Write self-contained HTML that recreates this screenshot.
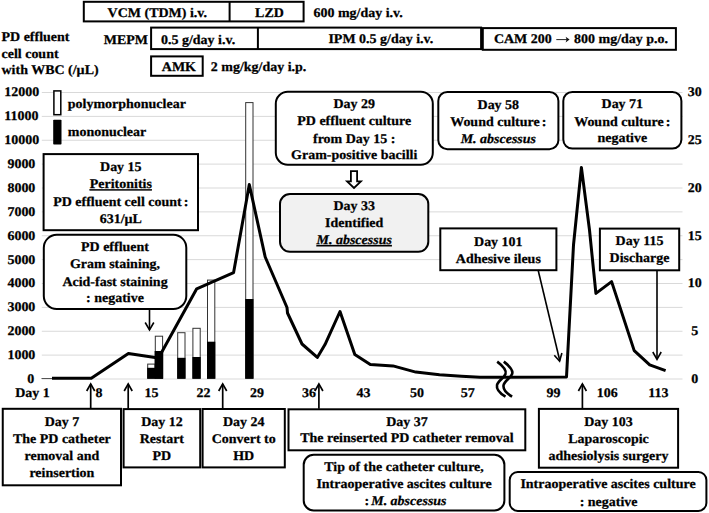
<!DOCTYPE html>
<html><head><meta charset="utf-8"><style>
html,body{margin:0;padding:0;background:#fff;width:709px;height:513px;overflow:hidden}
svg{display:block}
text{font-family:"Liberation Serif",serif;font-weight:bold;font-size:13.2px;text-rendering:geometricPrecision;fill:#000;stroke:#000;stroke-width:0.25px}
.c{text-anchor:middle}
.i{font-style:italic}
</style></head><body>
<svg width="709" height="513" viewBox="0 0 709 513">
<!-- gridlines -->
<g stroke="#d9d9d9" stroke-width="1">
<line x1="41.8" x2="682.5" y1="92.50" y2="92.50"/>
<line x1="41.8" x2="682.5" y1="116.38" y2="116.38"/>
<line x1="41.8" x2="682.5" y1="140.25" y2="140.25"/>
<line x1="41.8" x2="682.5" y1="164.12" y2="164.12"/>
<line x1="41.8" x2="682.5" y1="188.00" y2="188.00"/>
<line x1="41.8" x2="682.5" y1="211.88" y2="211.88"/>
<line x1="41.8" x2="682.5" y1="235.75" y2="235.75"/>
<line x1="41.8" x2="682.5" y1="259.62" y2="259.62"/>
<line x1="41.8" x2="682.5" y1="283.50" y2="283.50"/>
<line x1="41.8" x2="682.5" y1="307.38" y2="307.38"/>
<line x1="41.8" x2="682.5" y1="331.25" y2="331.25"/>
<line x1="41.8" x2="682.5" y1="355.12" y2="355.12"/>
<line x1="41.8" x2="682.5" y1="379.00" y2="379.00"/>
</g>
<line x1="41.5" x2="53" y1="378.5" y2="378.5" stroke="#555" stroke-width="1"/>

<!-- left axis labels -->
<text transform="translate(4.2,96.4) scale(1.06,1)">12000</text>
<text transform="translate(4.2,120.3) scale(1.06,1)">11000</text>
<text transform="translate(4.2,144.2) scale(1.06,1)">10000</text>
<text transform="translate(7.4,168) scale(1.06,1)">9000</text>
<text transform="translate(7.4,191.9) scale(1.06,1)">8000</text>
<text transform="translate(7.4,215.8) scale(1.06,1)">7000</text>
<text transform="translate(7.4,239.7) scale(1.06,1)">6000</text>
<text transform="translate(7.4,263.5) scale(1.06,1)">5000</text>
<text transform="translate(7.4,287.4) scale(1.06,1)">4000</text>
<text transform="translate(7.4,311.3) scale(1.06,1)">3000</text>
<text transform="translate(7.4,335.2) scale(1.06,1)">2000</text>
<text transform="translate(7.4,359) scale(1.06,1)">1000</text>
<text transform="translate(27.3,382.9) scale(1.06,1)">0</text>

<!-- right axis labels -->
<g class="c">
<text class="c" transform="translate(694.8,96.4) scale(1.06,1)">30</text>
<text class="c" transform="translate(694.8,144.2) scale(1.06,1)">25</text>
<text class="c" transform="translate(694.8,191.9) scale(1.06,1)">20</text>
<text class="c" transform="translate(694.8,239.7) scale(1.06,1)">15</text>
<text class="c" transform="translate(694.8,287.4) scale(1.06,1)">10</text>
<text class="c" transform="translate(694.8,335.2) scale(1.06,1)">5</text>
<text class="c" transform="translate(694.8,382.9) scale(1.06,1)">0</text>
</g>

<!-- x labels -->
<text transform="translate(15.2,396.8) scale(1.06,1)">Day 1</text>
<text class="c" transform="translate(98.9,396.8) scale(1.06,1)">8</text>
<text class="c" transform="translate(151.5,396.8) scale(1.06,1)">15</text>
<text class="c" transform="translate(203.5,396.8) scale(1.06,1)">22</text>
<text class="c" transform="translate(256.9,396.8) scale(1.06,1)">29</text>
<text class="c" transform="translate(309,396.8) scale(1.06,1)">36</text>
<text class="c" transform="translate(363.4,396.8) scale(1.06,1)">43</text>
<text class="c" transform="translate(417,396.8) scale(1.06,1)">50</text>
<text class="c" transform="translate(467.7,396.8) scale(1.06,1)">57</text>
<text class="c" transform="translate(553.6,396.8) scale(1.06,1)">99</text>
<text class="c" transform="translate(607.2,396.8) scale(1.06,1)">106</text>
<text class="c" transform="translate(658.3,396.8) scale(1.06,1)">113</text>

<!-- bars -->
<g stroke="#333" stroke-width="1">
<rect x="147.7" y="364.1" width="7.3" height="14.4" fill="#fff"/>
<rect x="155.3" y="336.2" width="7.3" height="42.3" fill="#fff"/>
<rect x="177.7" y="332.7" width="7.3" height="45.8" fill="#fff"/>
<rect x="192.9" y="328.3" width="7.3" height="50.2" fill="#fff"/>
<rect x="207.5" y="280.1" width="7.3" height="98.4" fill="#fff"/>
<rect x="245.7" y="102.6" width="7.3" height="275.9" fill="#fff"/>
</g>
<g fill="#000">
<rect x="147.2" y="367.8" width="8.3" height="10.7"/>
<rect x="154.8" y="351" width="8.3" height="27.5"/>
<rect x="177.2" y="357.8" width="8.3" height="20.7"/>
<rect x="192.4" y="357" width="8.3" height="21.5"/>
<rect x="207" y="341.7" width="8.3" height="36.8"/>
<rect x="245.2" y="299" width="8.3" height="79.5"/>
</g>

<!-- main line -->
<polyline fill="none" stroke="#000" stroke-width="3" stroke-linejoin="round" stroke-linecap="butt"
 points="52,378.3 91.3,378.3 128.4,353.6 155,357.4 158.5,358 196.7,288.8 233.6,272.6 249.3,184.6 265.2,257 287,307.5 287.5,313 302,344 317.3,357.4 325,344.6 340,311.5 354.8,354.6 370.3,364.6 393,365.9 415.8,372.1 439.5,374.7 461.5,376.2 480,377.2 566.5,377 573.5,245 581.4,167.4 589.5,230 595.9,293.4 611.6,281.6 634.2,350.6 649.7,364.8 665.6,370.6"/>
<!-- black bar B overlays line -->
<rect x="154.8" y="351" width="8.3" height="27.5" fill="#000"/>

<!-- break symbol -->
<g fill="none" stroke="#000" stroke-width="2.6">
<path d="M497.2,361.6 C503,366 507,370 505.5,374 C504,378 498,381 497,385 C496,390 501,394 505.5,396.7"/>
<path d="M503.8,361.6 C509.6,366 513.6,370 512.1,374 C510.6,378 504.6,381 503.6,385 C502.6,390 507.6,394 512.1,396.7"/>
</g>

<!-- legend -->
<rect x="53.9" y="90.9" width="6.9" height="23.8" fill="#fff" stroke="#000" stroke-width="1.5"/>
<rect x="53.2" y="119.8" width="8.3" height="24.7" fill="#000" rx="0.8"/>
<text transform="translate(67.8,108.3) scale(1.06,1)">polymorphonuclear</text>
<text transform="translate(67.8,135.8) scale(1.06,1)">mononuclear</text>

<!-- top medication rows -->
<g fill="#fff" stroke="#000" stroke-width="2">
<rect x="83.8" y="1.8" width="219.8" height="19.6"/>
<line x1="229.6" x2="229.6" y1="1.8" y2="21.4"/>
<rect x="151.1" y="27.6" width="330" height="21.5"/>
<line x1="257.9" x2="257.9" y1="27.6" y2="49.1"/>
<rect x="482.8" y="28.1" width="193.1" height="21.7"/>
<rect x="151.1" y="56.4" width="51.6" height="19.4"/>
</g>
<text class="c" transform="translate(157.3,17.2) scale(1.06,1)">VCM (TDM) i.v.</text>
<text class="c" transform="translate(269.5,17.2) scale(1.06,1)">LZD</text>
<text transform="translate(313.5,16.9) scale(1.06,1)">600 mg/day i.v.</text>
<text transform="translate(103.7,43.7) scale(1.06,1)">MEPM</text>
<text transform="translate(161,43.5) scale(1.06,1)">0.5 g/day i.v.</text>
<text transform="translate(328.4,43.3) scale(1.06,1)">IPM 0.5 g/day i.v.</text>
<text transform="translate(493.9,43.3) scale(1.06,1)">CAM 200</text>
<text transform="translate(574.1,43.3) scale(1.06,1)">800 mg/day p.o.</text>
<path d="M556.3,39.6 H567" stroke="#222" stroke-width="1"/>
<path d="M565.6,36.8 L569.6,39.6 L565.6,42.4 L566.6,39.6 Z" fill="#111"/>
<text transform="translate(161.8,71.1) scale(1.06,1)">AMK</text>
<text transform="translate(210.8,71.1) scale(1.06,1)">2 mg/kg/day i.p.</text>
<text transform="translate(1.5,40.5) scale(1.06,1)">PD effluent</text>
<text transform="translate(1.5,57.5) scale(1.06,1)">cell count</text>
<text transform="translate(1.5,74.3) scale(1.06,1)">with WBC (/µL)</text>

<!-- upper boxes -->
<g fill="#fff" stroke="#000" stroke-width="2">
<rect x="43.6" y="154.1" width="154.4" height="76.1"/>
<rect x="43.8" y="234.8" width="142.5" height="74.3" rx="13" ry="13"/>
<rect x="275.8" y="91.7" width="157" height="73" rx="12" ry="12"/>
<rect x="280" y="194" width="148.3" height="57.8" rx="10" ry="10" fill="#f1f1f1"/>
<rect x="438.3" y="91.9" width="120.1" height="57.3" rx="9" ry="9"/>
<rect x="563.3" y="91.9" width="118.1" height="56.7" rx="9" ry="9"/>
<rect x="440.3" y="228.4" width="116.1" height="41.8"/>
<rect x="599.9" y="228.6" width="79.3" height="41.7"/>
</g>
<text class="c" transform="translate(120.8,171.4) scale(1.06,1)">Day 15</text>
<text class="c" text-decoration="underline" transform="translate(120.8,188.2) scale(1.06,1)">Peritonitis</text>
<text class="c" transform="translate(120.8,206) scale(1.06,1)">PD effluent cell count<tspan dx="2">:</tspan></text>
<text class="c" transform="translate(120.8,222.8) scale(1.06,1)">631/µL</text>

<text class="c" transform="translate(115,251.1) scale(1.06,1)">PD effluent</text>
<text class="c" transform="translate(115,268) scale(1.06,1)">Gram staining,</text>
<text class="c" transform="translate(115,286) scale(1.06,1)">Acid-fast staining</text>
<text class="c" transform="translate(115,301.8) scale(1.06,1)">: negative</text>

<text class="c" transform="translate(354.2,108.3) scale(1.06,1)">Day 29</text>
<text class="c" transform="translate(354.2,125) scale(1.06,1)">PD effluent culture</text>
<text class="c" transform="translate(354.2,142.6) scale(1.06,1)">from Day 15 :</text>
<text class="c" transform="translate(354.2,158.6) scale(1.06,1)">Gram-positive bacilli</text>

<text class="c" transform="translate(354.2,210.4) scale(1.06,1)">Day 33</text>
<text class="c" transform="translate(354.2,227.1) scale(1.06,1)">Identified</text>
<text class="c i" text-decoration="underline" transform="translate(354.2,244) scale(1.06,1)">M. abscessus</text>

<text class="c" transform="translate(498.3,108.7) scale(1.06,1)">Day 58</text>
<text class="c" transform="translate(498.3,126.1) scale(1.06,1)">Wound culture<tspan dx="2">:</tspan></text>
<text class="c i" transform="translate(498.3,142.9) scale(1.06,1)">M. abscessus</text>

<text class="c" transform="translate(622.3,108.3) scale(1.06,1)">Day 71</text>
<text class="c" transform="translate(622.3,125.5) scale(1.06,1)">Wound culture<tspan dx="2">:</tspan></text>
<text class="c" transform="translate(622.3,142.3) scale(1.06,1)">negative</text>

<text class="c" transform="translate(498.3,245.7) scale(1.06,1)">Day 101</text>
<text class="c" transform="translate(498.3,262.5) scale(1.06,1)">Adhesive ileus</text>

<text class="c" transform="translate(639.5,245.4) scale(1.06,1)">Day 115</text>
<text class="c" transform="translate(639.5,262.1) scale(1.06,1)">Discharge</text>

<!-- hollow arrow -->
<path d="M350.9,171.2 H357.1 V181.4 H360.9 L354,188 L347.1,181.4 H350.9 Z" fill="#fff" stroke="#000" stroke-width="1.8" stroke-linejoin="miter"/>

<!-- down arrows -->
<g fill="none" stroke="#000" stroke-width="1.6">
<line x1="149.5" y1="309" x2="149.5" y2="329.5"/>
<polyline points="145.2,322.5 149.5,329.8 153.8,322.5"/>
<line x1="538.1" y1="270" x2="559.8" y2="360.8"/>
<polyline points="554.3,355.2 559.6,361.2 561.9,353"/>
<line x1="657" y1="270" x2="657" y2="359"/>
<polyline points="652.8,352 657,359.3 661.2,352"/>
</g>

<!-- up arrows -->
<g fill="none" stroke="#000" stroke-width="1.7">
<line x1="90.7" y1="384" x2="90.7" y2="408.8"/>
<polyline points="86.7,391 90.7,383.9 94.7,391"/>
<line x1="128.2" y1="384" x2="128.2" y2="408.8"/>
<polyline points="124.2,391 128.2,383.9 132.2,391"/>
<line x1="222.7" y1="384" x2="222.7" y2="408.8"/>
<polyline points="218.7,391 222.7,383.9 226.7,391"/>
<line x1="318.9" y1="384" x2="318.9" y2="408.8"/>
<polyline points="314.9,391 318.9,383.9 322.9,391"/>
<line x1="582.4" y1="384" x2="582.4" y2="408.8"/>
<polyline points="578.4,391 582.4,383.9 586.4,391"/>
</g>

<!-- bottom boxes -->
<g fill="#fff" stroke="#000" stroke-width="2">
<rect x="2.75" y="408.8" width="118.25" height="76.5"/>
<rect x="123.6" y="409.1" width="76.6" height="58.3"/>
<rect x="202.6" y="409" width="82.2" height="58.4"/>
<rect x="288.5" y="409.3" width="236.8" height="41"/>
<rect x="538.9" y="408.9" width="139.2" height="58.8"/>
<rect x="303.7" y="454.8" width="200.7" height="55.6" rx="10" ry="10"/>
<rect x="509.7" y="472" width="196.7" height="38.9" rx="8" ry="8"/>
</g>
<text class="c" transform="translate(61.9,425.7) scale(1.06,1)">Day 7</text>
<text class="c" transform="translate(61.9,442.7) scale(1.06,1)">The PD catheter</text>
<text class="c" transform="translate(61.9,460.1) scale(1.06,1)">removal and</text>
<text class="c" transform="translate(61.9,476.6) scale(1.06,1)">reinsertion</text>

<text class="c" transform="translate(161.9,425.9) scale(1.06,1)">Day 12</text>
<text class="c" transform="translate(161.9,442.5) scale(1.06,1)">Restart</text>
<text class="c" transform="translate(161.9,459.7) scale(1.06,1)">PD</text>

<text class="c" transform="translate(243.7,425.9) scale(1.06,1)">Day 24</text>
<text class="c" transform="translate(243.7,442.5) scale(1.06,1)">Convert to</text>
<text class="c" transform="translate(243.7,459.7) scale(1.06,1)">HD</text>

<text class="c" transform="translate(406.9,425.8) scale(1.06,1)">Day 37</text>
<text class="c" transform="translate(406.9,442.3) scale(1.06,1)">The reinserted PD catheter removal</text>

<text class="c" transform="translate(608.5,425.8) scale(1.06,1)">Day 103</text>
<text class="c" transform="translate(608.5,443.1) scale(1.06,1)">Laparoscopic</text>
<text class="c" transform="translate(608.5,460.4) scale(1.06,1)">adhesiolysis surgery</text>

<text class="c" transform="translate(404,470.6) scale(1.06,1)">Tip of the catheter culture,</text>
<text class="c" transform="translate(404,487.5) scale(1.06,1)">Intraoperative ascites culture</text>
<text transform="translate(364.6,504.7) scale(1.06,1)">:</text>
<text class="i" transform="translate(371.2,504.7) scale(1.06,1)">M. abscessus</text>

<text class="c" transform="translate(608,487.9) scale(1.06,1)">Intraoperative ascites culture</text>
<text class="c" transform="translate(608.6,505.5) scale(1.06,1)">: negative</text>
</svg>
</body></html>
